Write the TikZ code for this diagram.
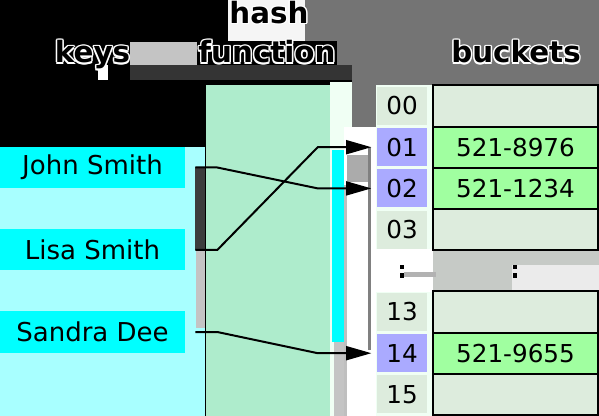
\documentclass[tikz,border=0pt]{standalone}
\usepackage{fontspec}
\setmainfont{DejaVu Sans}
\usetikzlibrary{arrows.meta,calc}
\definecolor{keycyan}{RGB}{0,255,255}
\definecolor{keylight}{RGB}{168,255,255}
\definecolor{hashmint}{RGB}{174,236,204}
\definecolor{idxempty}{RGB}{221,236,221}
\definecolor{idxfull}{RGB}{170,170,255}
\definecolor{bktempty}{RGB}{221,236,221}
\definecolor{bktfull}{RGB}{160,255,160}
\definecolor{artgray}{RGB}{116,116,116}
\definecolor{artdark}{RGB}{52,52,52}
\definecolor{artlight}{RGB}{196,196,196}
\definecolor{artpale}{RGB}{240,255,244}
\definecolor{artmid}{RGB}{198,202,198}
\newcommand{\halooff}[3]{\makebox[0pt][l]{\color{white}\hspace*{#1}\raisebox{#2}{#3}}}
\newcommand{\haloed}[1]{%
  \halooff{-1.1pt}{0pt}{#1}\halooff{1.1pt}{0pt}{#1}%
  \halooff{0pt}{1.1pt}{#1}\halooff{0pt}{-1.1pt}{#1}%
  \halooff{-0.8pt}{0.8pt}{#1}\halooff{0.8pt}{0.8pt}{#1}%
  \halooff{-0.8pt}{-0.8pt}{#1}\halooff{0.8pt}{-0.8pt}{#1}%
  #1}
\begin{document}
\begin{tikzpicture}[x=0.75pt,y=-0.75pt,
  keybox/.style={fill=keycyan, minimum width=138.75pt, minimum height=30.75pt, inner sep=0pt, font=\fontsize{19.5}{23}\selectfont},
  idxbox/.style={fill=idxempty, minimum width=37.5pt, minimum height=28.5pt, inner sep=0pt, font=\fontsize{18.5}{22}\selectfont},
  idxfullbox/.style={idxbox, fill=idxfull},
  bktbox/.style={fill=bktempty, draw=black, line width=1.5pt, minimum width=123.75pt, minimum height=30.9pt, inner sep=0pt, font=\fontsize{18.5}{22}\selectfont},
  bktfullbox/.style={bktbox, fill=bktfull},
  titletext/.style={font=\fontsize{22}{26}\selectfont\bfseries, anchor=base, inner sep=0pt},
  conn/.style={draw=black, line width=1.5pt, line join=miter, -{Triangle[length=19pt,width=10.5pt]}}
]
\useasboundingbox (0,0) rectangle (599,416);
% background and rendering artefacts
\fill[black] (0,0) rectangle (599,416);
\fill[white!96!black] (228,0) rectangle (305,41);
\fill[artgray] (305,0) -- (599,0) -- (599,85) -- (376,85) -- (376,127) -- (352,127) -- (352,65) -- (337,65) -- (337,41) -- (305,41) -- cycle;
\fill[artlight] (130,42) rectangle (197,65);
\fill[white] (98,65) rectangle (108,80);
\fill[artdark] (130,65) rectangle (352,80);
\fill[keylight] (0,147) rectangle (205,416);
\fill[black!76] (195,167) rectangle (205,250);
\fill[artlight] (196,250) rectangle (205,328);
\fill[hashmint] (206,85) rectangle (330,416);
\fill[artpale] (330,82) rectangle (352,416);
\fill[artpale] (352,127) rectangle (376,416);
\fill[artpale] (376,85) rectangle (433,416);
\fill[keycyan] (332,150) rectangle (344,342);
\fill[artlight] (334,342) rectangle (345,416);
\fill[white] (344,127) rectangle (376,416);
\fill[black!25] (344,185) rectangle (347,416);
\fill[black!33] (347,155) rectangle (368,182);
\fill[black!50] (368,147) rectangle (371,350);
\fill[artmid] (433,249) rectangle (599,292);
\fill[white!92!black] (512,265) rectangle (599,290);
\fill[white] (376,249) rectangle (433,292);
\fill[black!30] (404,272) rectangle (436,277);
% titles
\node[titletext] (tkeys) at (92.5,63) {\haloed{keys}};
\node[titletext] (thash) at (269,23.5) {\haloed{hash}};
\node[titletext] (tfunc) at (267,63) {\haloed{function}};
\node[titletext] (tbuck) at (516,63) {\haloed{buckets}};
% keys
\node[keybox] (john) at (92.5,167.5) {John Smith};
\node[keybox] (lisa) at (92.5,250) {Lisa Smith};
\node[keybox] (sandra) at (92.5,332) {Sandra Dee};
% index column
\node[idxbox] (i00) at (402,106) {00};
\node[idxfullbox] (i01) at (402,147.2) {01};
\node[idxfullbox] (i02) at (402,188.4) {02};
\node[idxbox] (i03) at (402,229.6) {03};
\node[idxbox] (i13) at (402,312) {13};
\node[idxfullbox] (i14) at (402,353.2) {14};
\node[idxbox] (i15) at (402,394.4) {15};
% buckets
\node[bktbox] (b00) at (515.5,106) {};
\node[bktfullbox] (b01) at (515.5,147.2) {521-8976};
\node[bktfullbox] (b02) at (515.5,188.4) {521-1234};
\node[bktbox] (b03) at (515.5,229.6) {};
\node[bktbox] (b13) at (515.5,312) {};
\node[bktfullbox] (b14) at (515.5,353.2) {521-9655};
\node[bktbox] (b15) at (515.5,394.4) {};
% ellipsis marks
\fill[black] (400,265) rectangle (404,269);
\fill[black] (400,273) rectangle (404,278);
\fill[black] (513,265) rectangle (517,269);
\fill[black] (513,273) rectangle (517,278);
% connectors
\draw[conn] ([xshift=7.5pt]john.east) -- ([xshift=24pt]john.east) -- ([xshift=-44.25pt]i02.west) -- ([xshift=-4pt]i02.west);
\draw[conn] ([xshift=7.5pt]lisa.east) -- ([xshift=24pt]lisa.east) -- ([xshift=-44.25pt]i01.west) -- ([xshift=-4pt]i01.west);
\draw[conn] ([xshift=7.5pt]sandra.east) -- ([xshift=24pt]sandra.east) -- ([xshift=-44.25pt]i14.west) -- ([xshift=-4pt]i14.west);
\end{tikzpicture}
\end{document}
